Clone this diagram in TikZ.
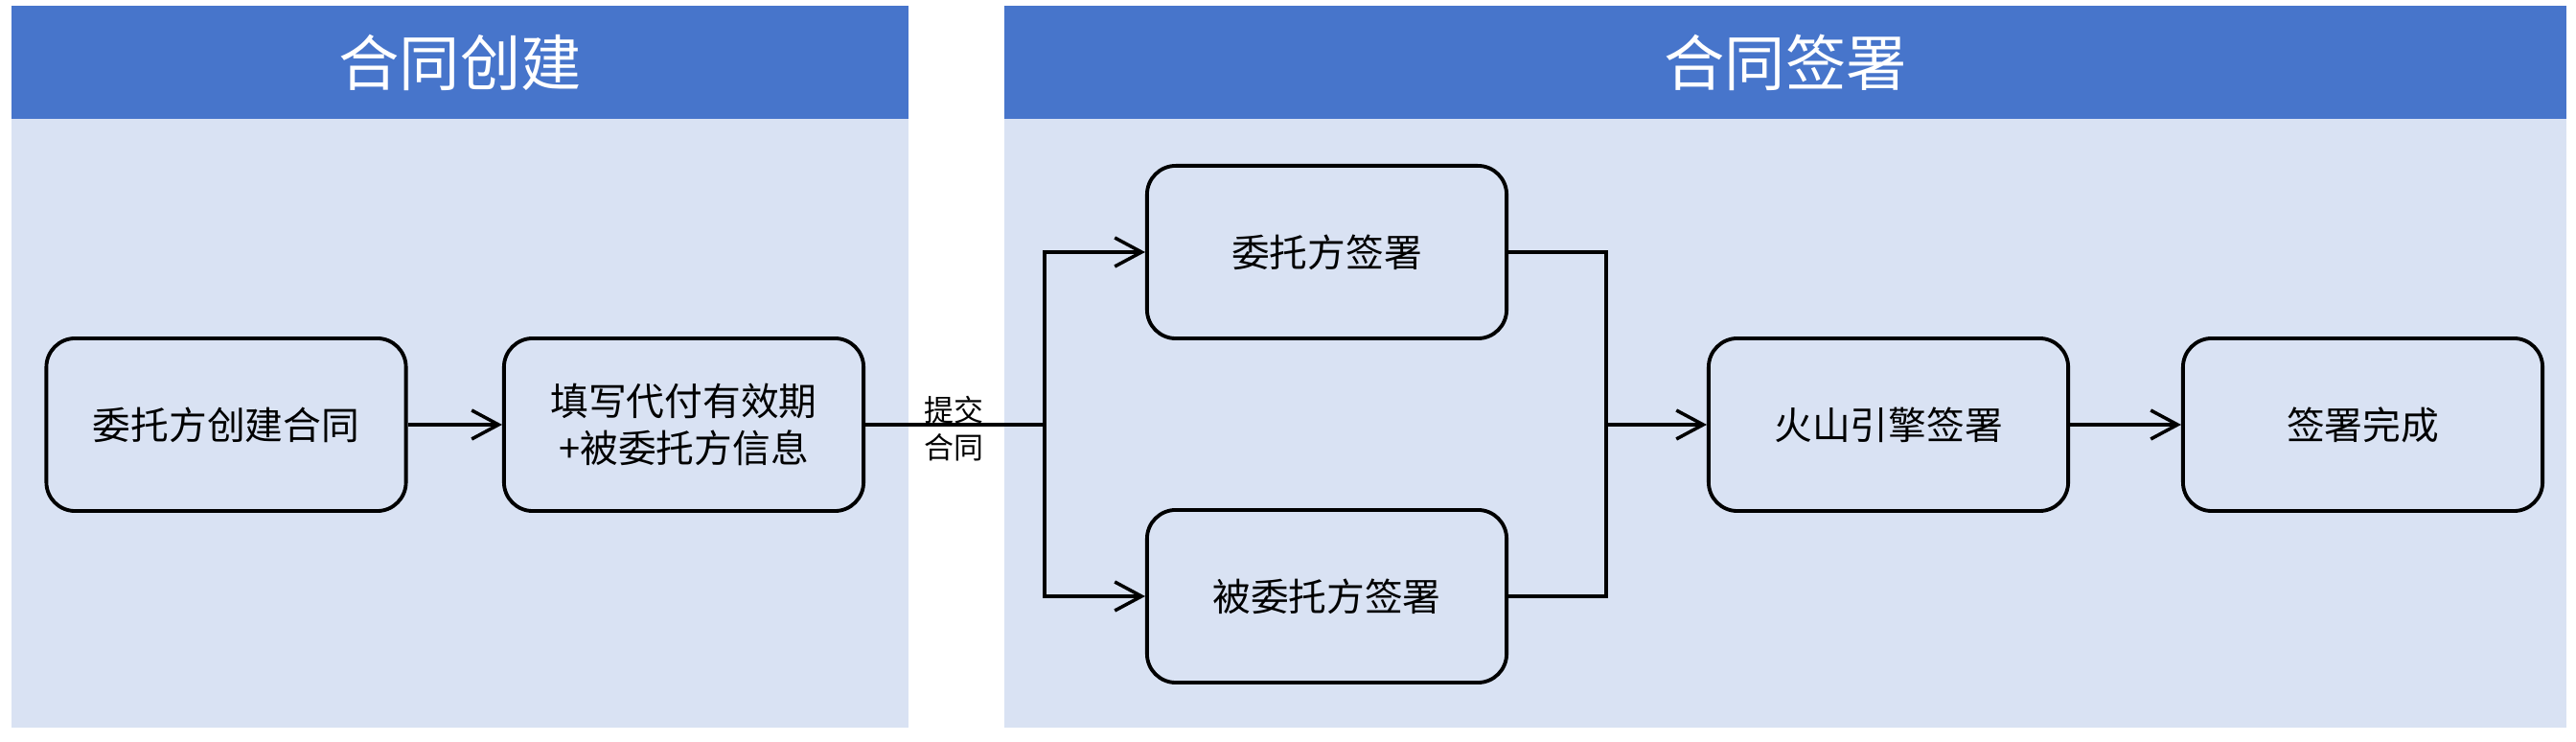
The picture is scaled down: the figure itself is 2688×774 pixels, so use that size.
\documentclass[tikz,border=0pt]{standalone}
\usepackage{fontspec}
\setmainfont{Noto Sans CJK SC}
\usetikzlibrary{arrows.meta}
\definecolor{hdr}{HTML}{4775CB}
\definecolor{pane}{HTML}{D9E2F3}
\tikzset{
  proc/.style={draw=black, line width=1.1pt, rounded corners=0.3cm,
    minimum width=3.75cm, minimum height=1.8cm, inner sep=2pt,
    align=center, font=\fontsize{11.3}{14}\selectfont},
  conn/.style={line width=1pt, -{Straight Barb[length=0.28cm, width=0.3cm, line width=1pt]}},
  seg/.style={line width=1pt},
  hdrtext/.style={text=white, font=\fontsize{18}{22}\selectfont},
  lbltext/.style={align=center, inner sep=0pt, font=\fontsize{8.8}{11}\selectfont},
}
\begin{document}
\begin{tikzpicture}[x=0.01cm,y=-0.01cm]
\useasboundingbox (0,0) rectangle (2688,774);
\fill[pane] (12,6) rectangle (948,759);
\fill[hdr] (12,6) rectangle (948,124);
\fill[pane] (1048,6) rectangle (2678,759);
\fill[hdr] (1048,6) rectangle (2678,124);
\node[hdrtext] (h1) at (480,65) {合同创建};
\node[hdrtext] (h2) at (1863,65) {合同签署};
\node[proc] (b1) at (236,443) {委托方创建合同};
\node[proc] (b2) at (713.5,443) {填写代付有效期\\+被委托方信息};
\node[proc] (b3) at (1384.5,263) {委托方签署};
\node[proc] (b4) at (1384.5,622) {被委托方签署};
\node[proc] (b5) at (1970.5,443) {火山引擎签署};
\node[proc] (b6) at (2465.5,443) {签署完成};
\coordinate (split) at (1090,443);
\coordinate (merge) at (1676,443);
\draw[conn] (b1) -- (b2);
\draw[seg] (b2.east) -- (split);
\draw[conn] (split) |- (b3);
\draw[conn] (split) |- (b4);
\draw[seg] (b3) -| (merge);
\draw[seg] (b4) -| (merge);
\draw[conn] (merge) -- (b5);
\draw[conn] (b5) -- (b6);
\node[lbltext] (lbl) at (995,447) {提交\\合同};
\end{tikzpicture}
\end{document}
